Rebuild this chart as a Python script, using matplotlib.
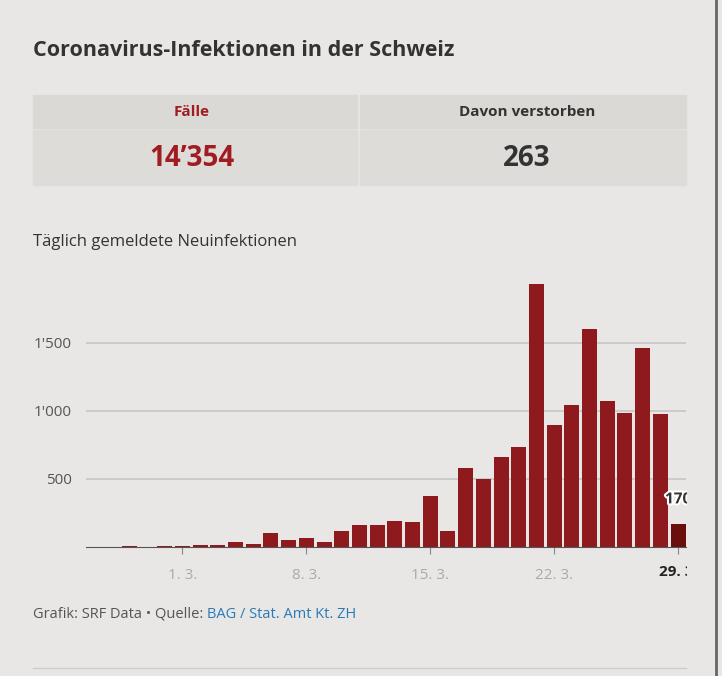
import matplotlib.pyplot as plt
import matplotlib.patheffects as pe
from matplotlib.patches import Rectangle
from matplotlib.transforms import Bbox, TransformedBbox
import numpy as np

plt.rcParams['font.family'] = ['Open Sans', 'DejaVu Sans']

dates = ['25.2.', '26.2.', '27.2.', '28.2.', '29.2.', '1.3.', '2.3.', '3.3.', '4.3.', '5.3.',
         '6.3.', '7.3.', '8.3.', '9.3.', '10.3.', '11.3.', '12.3.', '13.3.', '14.3.', '15.3.',
         '16.3.', '17.3.', '18.3.', '19.3.', '20.3.', '21.3.', '22.3.', '23.3.', '24.3.', '25.3.',
         '26.3.', '27.3.', '28.3.', '29.3.']
cases = [1, 0, 10, 0, 10, 10, 15, 15, 35, 22,
         100, 54, 69, 35, 118, 164, 164, 194, 181, 375,
         118, 583, 500, 662, 735, 1931, 900, 1044, 1605, 1073,
         988, 1463, 980, 170]
tick_days = ['1.3.', '8.3.', '15.3.', '22.3.']
tick_text = ['1. 3.', '8. 3.', '15. 3.', '22. 3.']
yticks = [500, 1000, 1500]
ylabels = ["500", "1'000", "1'500"]

W, H = 722, 676
bg = '#e8e7e5'
fig = plt.figure(figsize=(W/100, H/100), dpi=100, facecolor=bg)

def fx(px): return px / W
def fy(py): return 1 - py / H

fig.text(fx(33), fy(50), 'Coronavirus-Infektionen in der Schweiz', fontsize=15.5,
         fontweight='bold', color='#333333', va='center')

# summary table
for x0, x1 in [(33, 357), (360, 686)]:
    fig.patches.append(Rectangle((fx(x0), fy(128)), fx(x1) - fx(x0), fy(95) - fy(128),
                                 transform=fig.transFigure, color='#dbd9d6', zorder=0))
    fig.patches.append(Rectangle((fx(x0), fy(185)), fx(x1) - fx(x0), fy(130) - fy(185),
                                 transform=fig.transFigure, color='#dedcd9', zorder=0))
fig.text(fx(192), fy(112), 'Fälle', fontsize=11, fontweight='bold', color='#a01c20', ha='center', va='center')
fig.text(fx(527), fy(112), 'Davon verstorben', fontsize=11, fontweight='bold', color='#333333', ha='center', va='center')
fig.text(fx(192), fy(158), "14’354", fontsize=20, fontweight='bold', color='#a01c20', ha='center', va='center')
fig.text(fx(527), fy(158), '263', fontsize=20, fontweight='bold', color='#333333', ha='center', va='center')

fig.text(fx(33), fy(242), 'Täglich gemeldete Neuinfektionen', fontsize=12, color='#333333', va='center')

ax = fig.add_axes([fx(86), fy(547), fx(686) - fx(86), fy(280) - fy(547)])
ax.set_facecolor(bg)
x = np.arange(len(dates))
colors = ['#8f1a1d'] * (len(dates) - 1) + ['#6b0f0c']
ax.bar(x, cases, width=0.85, color=colors, zorder=3)
ax.set_xlim(-0.45, len(dates) - 0.55)
ax.set_ylim(0, 1963)
for s in ['top', 'right', 'left']:
    ax.spines[s].set_visible(False)
ax.spines['bottom'].set_color('#555555')
ax.spines['bottom'].set_zorder(4)
ax.set_yticks(yticks)
ax.set_yticklabels(ylabels, fontsize=11, color='#555555')
ax.tick_params(axis='y', length=0, pad=10)
ax.grid(axis='y', color='#c8c6c3', lw=1.2, zorder=0)
tpos = [dates.index(d) for d in tick_days] + [len(dates) - 1]
ax.set_xticks(tpos)
ax.set_xticklabels(tick_text + [''], fontsize=11, color='#aaaaaa')
ax.tick_params(axis='x', length=5, color='#888888', pad=10)

clipbox = TransformedBbox(Bbox([[0, 0], [fx(687), 1]]), fig.transFigure)
t = ax.text(len(dates) - 1, -185, '29. 3.', fontsize=11, fontweight='bold', color='#222222',
            ha='center', va='center')
lab = ax.text(len(dates) - 1, cases[-1] + 180, str(cases[-1]), fontsize=11, fontweight='bold',
              color='#333333', ha='center', va='center', zorder=5)
lab.set_path_effects([pe.withStroke(linewidth=3, foreground='white')])
for tt in (t, lab):
    tt.set_clip_on(True)
    tt.set_clip_box(clipbox)

src = fig.text(fx(33), fy(614), 'Grafik: SRF Data • Quelle: ', fontsize=10.5, color='#555555', va='center')
r = fig.canvas.get_renderer()
ext = src.get_window_extent(r)
fig.text(ext.x1 / fig.bbox.width, fy(614), 'BAG / Stat. Amt Kt. ZH', fontsize=10.5,
         color='#2a7ab8', va='center')
fig.lines.append(plt.Line2D([fx(33), fx(686)], [fy(668), fy(668)], transform=fig.transFigure,
                            color='#cfcdca', lw=1))
fig.lines.append(plt.Line2D([fx(716), fx(716)], [0, 1], transform=fig.transFigure,
                            color='#666666', lw=2))

fig.savefig('out.png', dpi=100, facecolor=bg)
